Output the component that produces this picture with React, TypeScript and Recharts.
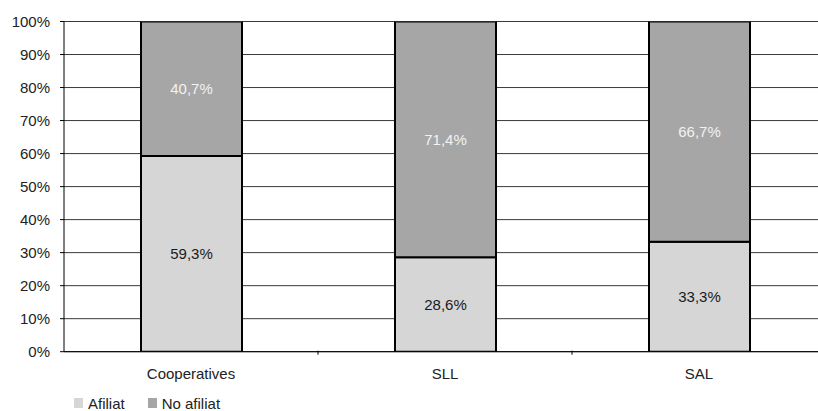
import { BarChart, Bar, XAxis, YAxis, CartesianGrid, Legend, LabelList } from 'recharts';

const categories = ['Cooperatives', 'SLL', 'SAL'];
const afiliat = [59.3, 28.6, 33.3];
const noAfiliat = [40.7, 71.4, 66.7];
const yTicks = [0, 10, 20, 30, 40, 50, 60, 70, 80, 90, 100];

const FONT = '"Liberation Sans", Arial, sans-serif';
const LIGHT = '#d6d6d6';
const DARK = '#a6a6a6';

const data = categories.map((name, i) => ({
  name,
  afiliat: afiliat[i],
  noAfiliat: noAfiliat[i],
}));

const fmt = (v: any) => `${Number(v).toFixed(1).replace('.', ',')}%`;

const CHART_W = 826;
const PLOT_LEFT = 64;
const BAND = (CHART_W - PLOT_LEFT) / categories.length;

// label at category centre, tick mark at the right edge of each band
function CategoryTick(props: any) {
  const { x, y, payload, index } = props;
  return (
    <g>
      {index < categories.length - 1 && (
        <line x1={x + BAND / 2} x2={x + BAND / 2} y1={y - 18} y2={y - 14} stroke="#000" />
      )}
      <text x={x} y={y} dy="0.71em" textAnchor="middle" fontSize={15} fill="#222" fontFamily={FONT}>
        {payload.value}
      </text>
    </g>
  );
}

function LegendBox() {
  const items = [
    { label: 'Afiliat', color: LIGHT },
    { label: 'No afiliat', color: DARK },
  ];
  return (
    <div style={{ display: 'flex', alignItems: 'center', height: 16, fontFamily: FONT, fontSize: 15, color: '#222' }}>
      {items.map((it) => (
        <div key={it.label} style={{ display: 'flex', alignItems: 'center', marginRight: 23 }}>
          <span style={{ width: 9, height: 10, background: it.color, marginRight: 5, display: 'inline-block' }} />
          <span>{it.label}</span>
        </div>
      ))}
    </div>
  );
}

export default function App() {
  return (
    <div style={{ position: 'absolute', left: 0, top: 0, width: 818, height: 411, overflow: 'hidden', background: '#fff' }}>
      <BarChart
        width={CHART_W}
        height={411}
        data={data}
        margin={{ top: 21.5, right: 0, left: 0, bottom: 0 }}
        barSize={101}
      >
        <CartesianGrid vertical={false} stroke="#3a3a3a" strokeWidth={1} />
        <XAxis
          dataKey="name"
          height={43.3}
          axisLine={{ stroke: '#000', strokeWidth: 1 }}
          tickLine={false}
          tickMargin={11}
          tick={<CategoryTick />}
          interval={0}
        />
        <YAxis
          width={64}
          domain={[0, 100]}
          ticks={yTicks}
          tickFormatter={(v) => `${v}%`}
          axisLine={{ stroke: '#000', strokeWidth: 1 }}
          tickLine={{ stroke: '#000' }}
          tickSize={4}
          tickMargin={10}
          tick={{ fontSize: 15, fill: '#222', fontFamily: FONT }}
          allowDataOverflow
        />
        <Legend
          verticalAlign="bottom"
          content={() => <LegendBox />}
          wrapperStyle={{ left: 74, bottom: 0, width: 300 }}
        />
        <Bar dataKey="afiliat" stackId="a" fill={LIGHT} stroke="#000" strokeWidth={2} isAnimationActive={false}>
          <LabelList dataKey="afiliat" position="center" formatter={fmt} fill="#1a1a1a" fontSize={15} fontFamily={FONT} />
        </Bar>
        <Bar dataKey="noAfiliat" stackId="a" fill={DARK} stroke="#000" strokeWidth={2} isAnimationActive={false}>
          <LabelList dataKey="noAfiliat" position="center" formatter={fmt} fill="#f2f2f2" fontSize={15} fontFamily={FONT} />
        </Bar>
      </BarChart>
    </div>
  );
}
